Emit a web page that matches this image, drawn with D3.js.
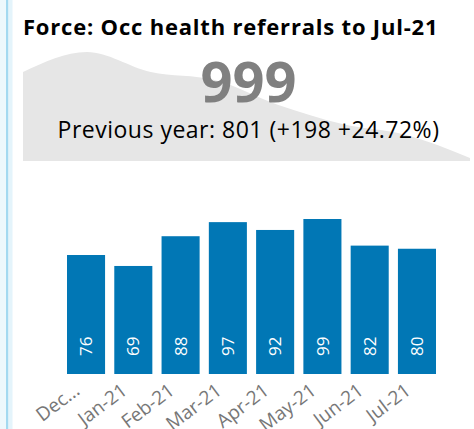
<!DOCTYPE html>
<html>
<head>
<meta charset="utf-8">
<script src="https://cdn.jsdelivr.net/npm/d3@7"></script>
<style>
  body { margin: 0; background: #fff; }
  svg { display: block; font-family: "Open Sans", "Noto Sans", sans-serif; }
</style>
</head>
<body>
<div id="chart"></div>
<script>
var svgWidth = 474;
var svgHeight = 429;

// card values
var titleText = "Force: Occ health referrals to Jul-21";
var kpiValue = 999;
var prevValue = 801;

// background trend (sparkline behind the KPI)
var trendValues = [89, 109, 89, 81, 56, 37, 26, 3];

// monthly bars
var months = ["Dec-20", "Jan-21", "Feb-21", "Mar-21", "Apr-21", "May-21", "Jun-21", "Jul-21"];
var tickLabels = ["Dec...", "Jan-21", "Feb-21", "Mar-21", "Apr-21", "May-21", "Jun-21", "Jul-21"];
var referrals = [76, 69, 88, 97, 92, 99, 82, 80];

var svg = d3.select("#chart")
    .append("svg")
    .attr("width", svgWidth)
    .attr("height", svgHeight);

// left accent strip
svg.append("rect").attr("x", 0).attr("y", 0).attr("width", 6).attr("height", svgHeight).attr("fill", "#edf8fc");
svg.append("rect").attr("x", 6).attr("y", 0).attr("width", 2.5).attr("height", svgHeight).attr("fill", "#a3d9f0");
svg.append("rect").attr("x", 8.5).attr("y", 0).attr("width", 4).attr("height", svgHeight).attr("fill", "#e4f4fb");

// trend area
var trendX = d3.scalePoint()
    .domain(d3.range(trendValues.length))
    .range([23, 470]);

var trendY = d3.scaleLinear()
    .domain([0, d3.max(trendValues)])
    .range([161, 52]);

var area = d3.area()
    .x((d, i) => trendX(i))
    .y0(trendY(0))
    .y1(d => trendY(d))
    .curve(d3.curveMonotoneX);

svg.append("path")
    .datum(trendValues)
    .attr("d", area)
    .attr("fill", "#e6e6e6");

// title
svg.append("text")
    .attr("x", 23)
    .attr("y", 35)
    .attr("font-size", 22)
    .attr("font-weight", "bold")
    .attr("letter-spacing", 0.8)
    .attr("fill", "#000")
    .text(titleText);

// big number
svg.append("text")
    .attr("x", 248.5)
    .attr("y", 102)
    .attr("text-anchor", "middle")
    .attr("font-size", 56)
    .attr("font-weight", "bold")
    .attr("fill", "#808080")
    .text(kpiValue);

var diff = kpiValue - prevValue;
var pct = (diff / prevValue * 100).toFixed(2);
svg.append("text")
    .attr("x", 248.5)
    .attr("y", 138)
    .attr("text-anchor", "middle")
    .attr("font-size", 23)
    .attr("letter-spacing", 0.5)
    .attr("fill", "#000")
    .text("Previous year: " + prevValue + " (+" + diff + " +" + pct + "%)");

// bar chart
var xScale = d3.scaleBand()
    .domain(months)
    .range([62.4, 440.6])
    .paddingInner(0.195)
    .paddingOuter(0.0975);

var yScale = d3.scaleLinear()
    .domain([0, d3.max(referrals)])
    .range([374, 219]);

var barGroup = svg.append("g");

barGroup.selectAll("rect")
    .data(referrals)
    .enter()
    .append("rect")
    .attr("x", (d, i) => xScale(months[i]))
    .attr("y", d => yScale(d))
    .attr("width", xScale.bandwidth())
    .attr("height", d => yScale(0) - yScale(d))
    .attr("fill", "#0177b5");

// values inside the bars, rotated
barGroup.selectAll(".val")
    .data(referrals)
    .enter()
    .append("text")
    .attr("class", "val")
    .attr("transform", (d, i) => `translate(${xScale(months[i]) + xScale.bandwidth() / 2}, ${yScale(0) - 18}) rotate(-90)`)
    .attr("dy", "0.36em")
    .attr("font-size", 17)
    .attr("fill", "#fff")
    .text(d => d);

// x axis (no line, no ticks)
var bottomAxis = d3.axisBottom(xScale)
    .tickSize(0)
    .tickFormat((d, i) => tickLabels[i]);

var xAxisG = svg.append("g")
    .attr("transform", "translate(0, 374)")
    .call(bottomAxis);

xAxisG.select(".domain").remove();

xAxisG.selectAll("text")
    .attr("font-family", "\"Open Sans\", sans-serif")
    .attr("font-size", 19)
    .attr("fill", "#777")
    .attr("text-anchor", "end")
    .attr("y", 0)
    .attr("dy", 0)
    .attr("transform", "translate(-5, 19) rotate(-37)");
</script>
</body>
</html>
